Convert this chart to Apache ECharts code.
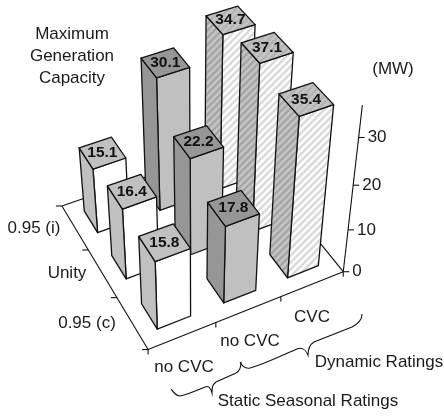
<!DOCTYPE html>
<html><head><meta charset="utf-8">
<style>html,body{margin:0;padding:0;background:#fff}#c{width:444px;height:417px}</style>
<script src="https://cdn.jsdelivr.net/npm/echarts@6/dist/echarts.min.js"></script>
</head><body><div id="c"></div>
<script>
// Data
const columnLabels = ['no CVC','no CVC','CVC'];
const rowLabels = ['0.95 (c)','Unity','0.95 (i)'];
const staticNoCvc = [15.8,16.4,15.1];
const dynamicNoCvc = [17.8,22.2,30.1];
const dynamicCvc = [35.4,37.1,34.7];
const heightTicks = [0,10,20,30];
const heightAxisMax = 36.4;

// Projective camera fitted to the picture (column, row, value) -> screen
const CAM=[72.28546,-25.97841,-0.6471660,148.0791,
           -20.23230,-38.72789,-5.213715,349.5727,
           0.02105375,0.04433370,-0.003325486];
function proj(X,Y,Z){
  const w=CAM[8]*X+CAM[9]*Y+CAM[10]*Z+1;
  return [(CAM[0]*X+CAM[1]*Y+CAM[2]*Z+CAM[3])/w,(CAM[4]*X+CAM[5]*Y+CAM[6]*Z+CAM[7])/w];
}
function hatch(bg,fg){
  const n=7,c=document.createElement('canvas');c.width=n;c.height=n;
  const x=c.getContext('2d');x.fillStyle=bg;x.fillRect(0,0,n,n);
  x.strokeStyle=fg;x.lineWidth=2.4;
  [[-n,n,n,-n],[0,n,n,0],[0,2*n,2*n,0]].forEach(function(p){x.beginPath();x.moveTo(p[0],p[1]);x.lineTo(p[2],p[3]);x.stroke();});
  return {image:c,repeat:'repeat'};
}
const faceStyles=[
 {side:'#c0c0c0',front:'#ffffff',top:'#c0c0c0'},
 {side:'#969696',front:'#c0c0c0',top:'#969696'},
 {side:hatch('#c4c4c4','#a6a6a6'),front:hatch('#ffffff','#dadada'),top:hatch('#c4c4c4','#b4b4b4')}
];
const FONT='"Liberation Sans",Arial,sans-serif',INK='#1a1a1a';
const barOff=0.254,barW=0.497,barD=0.494,depthOff=0.254;

const barData=[];
for(let r=2;r>=0;r--){
  barData.push([2,r,dynamicCvc[r]]);
  barData.push([1,r,dynamicNoCvc[r]]);
  barData.push([0,r,staticNoCvc[r]]);
}
function poly(pts,fill){
  return {type:'polygon',shape:{points:pts},style:{fill:fill,stroke:'#111',lineWidth:1.3,lineJoin:'round'}};
}
function renderBar(params,api){
  const c=api.value(0),r=api.value(1),z=api.value(2);
  const x0=c+barOff,x1=x0+barW,y0=r+depthOff,y1=y0+barD;
  const s=faceStyles[c];
  const p=proj;
  const q=p((x0+x1)/2,(y0+y1)/2,z);
  return {type:'group',children:[
    poly([p(x0,y0,0),p(x1,y0,0),p(x1,y0,z),p(x0,y0,z)],s.front),
    poly([p(x0,y1,0),p(x0,y0,0),p(x0,y0,z),p(x0,y1,z)],s.side),
    poly([p(x0,y0,z),p(x1,y0,z),p(x1,y1,z),p(x0,y1,z)],s.top),
    {type:'text',style:{text:z.toFixed(1),x:q[0],y:q[1],align:'center',verticalAlign:'middle',fontFamily:FONT,fontWeight:'bold',fontSize:15.5,fill:'#111'}}
  ]};
}
function seg(a,b,w){
  return {type:'line',shape:{x1:a[0],y1:a[1],x2:b[0],y2:b[1]},style:{stroke:'#111',lineWidth:w||1.1}};
}
function brace(d){return {type:'path',shape:{pathData:d,x:0,y:0,width:444,height:417,layout:'cover'},style:{fill:'none',stroke:'#111',lineWidth:1.1}};}
function renderAxes(){
  const ch=[
    seg(proj(0,0,0),proj(3,0,0)),seg(proj(0,0,0),proj(0,3,0)),
    seg(proj(0,3,0),proj(3,3,0)),seg(proj(3,0,0),proj(3,3,0)),
    seg(proj(3,0,0),proj(3,0,heightAxisMax))
  ];
  for(let i=0;i<=3;i++){
    const a=proj(i,0,0);ch.push(seg(a,[a[0],a[1]+5]));
    const b=proj(0,i,0);ch.push(seg(b,[b[0]-6,b[1]]));
  }
  heightTicks.forEach(function(t){
    const a=proj(3,0,t);
    ch.push(seg(a,[a[0]+6,a[1]]));
    ch.push({type:'text',style:{text:String(t),x:a[0]+9,y:a[1],align:'left',verticalAlign:'middle',fontFamily:FONT,fontSize:17,fill:INK}});
  });
  ch.push(brace('M0 0 M444 417 M171 389 C174 393 176 396 180 396 C186 395 198 390 205 387 C209 385 211 389 212 393 C212 388 212 385 216 382 L236 373 C240 371 241 367 241 362'));
  ch.push(brace('M0 0 M444 417 M240 362 C242 366 245 369 250 368 C262 365 285 354 297 349 C302 347 306 350 308 355 C308 349 309 345 314 342 L352 327 C358 324 362 320 362 314'));
  return {type:'group',children:ch};
}
function txt(s,x,y,align){
  return {type:'text',silent:true,style:{text:s,x:x,y:y,align:align||'center',verticalAlign:'middle',fontFamily:FONT,fontSize:17,fill:INK}};
}

const chart=echarts.init(document.getElementById('c'),null,{renderer:'canvas'});
chart.setOption({
  animation:false,backgroundColor:'#fff',
  grid:{left:0,right:0,top:0,bottom:0,show:false},
  xAxis:{type:'category',data:columnLabels.map((s,i)=>i+':'+s),show:false},
  yAxis:{type:'category',data:rowLabels,show:false},
  series:[
    {type:'custom',coordinateSystem:'none',renderItem:renderAxes,data:[[0]],silent:true,z:1,clip:false},
    {type:'custom',renderItem:renderBar,data:barData,encode:{x:0,y:1},silent:true,z:2,clip:false}
  ],
  graphic:{elements:[
    txt('Maximum',72,34),txt('Generation',72,56),txt('Capacity',72,78),
    txt('(MW)',393,69),
    txt(rowLabels[2],34,228),txt(rowLabels[1],67,273),txt(rowLabels[0],87,323),
    txt(columnLabels[0],184,367),txt(columnLabels[1],250,341),txt(columnLabels[2],312,317),
    txt('Dynamic Ratings',379,362),txt('Static Seasonal Ratings',308,401)
  ]}
});
</script></body></html>
